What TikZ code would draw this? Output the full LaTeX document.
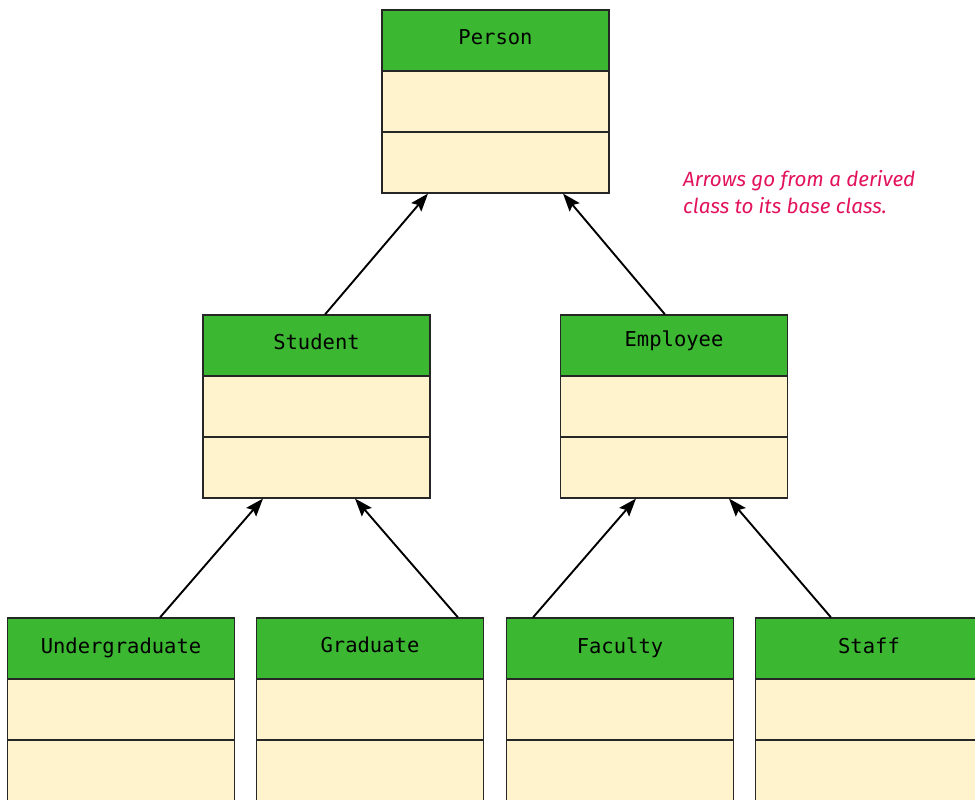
\documentclass[tikz,border=0pt]{standalone}
\usepackage{fontspec}
\newfontfamily\monofont{DejaVu Sans Mono}
\newfontfamily\notefont{Fira Sans}
\usetikzlibrary{arrows.meta}
\definecolor{hdrgreen}{RGB}{60,183,50}
\definecolor{cream}{RGB}{254,243,205}
\definecolor{notepink}{RGB}{226,18,92}
\tikzset{
  classbox/.style={draw=black!85, line width=1.1pt, fill=cream, minimum width=227pt, minimum height=183pt, inner sep=0pt,
    path picture={
      \fill[hdrgreen] (path picture bounding box.north west) rectangle ([yshift=-61pt]path picture bounding box.north east);
      \draw[black!85, line width=1.1pt] ([yshift=-61pt]path picture bounding box.north west) -- ([yshift=-61pt]path picture bounding box.north east);
      \draw[black!85, line width=1.1pt] ([yshift=-122pt]path picture bounding box.north west) -- ([yshift=-122pt]path picture bounding box.north east);
    }},
  classname/.style={anchor=base, font=\monofont\fontsize{20.5}{24}\selectfont, inner sep=0pt},
  inherit/.style={line width=1.9pt, -{Stealth[length=18pt,width=13pt,inset=3pt]}},
  note/.style={anchor=base west, font=\notefont\itshape\fontsize{20.6}{27}\selectfont, text=notepink, inner sep=0pt}
}
\begin{document}
\begin{tikzpicture}[x=1pt,y=-1pt]
\useasboundingbox (0,0) rectangle (975,800);
\node[classbox] (person) at (495.5,101.5) {};
\node[classbox] (student) at (316.5,406.5) {};
\node[classbox] (employee) at (674,406.5) {};
\node[classbox] (undergrad) at (121,709.5) {};
\node[classbox] (graduate) at (370,709.5) {};
\node[classbox] (faculty) at (620,709.5) {};
\node[classbox] (staff) at (869,709.5) {};
\node[classname] (tperson) at (495.5,44.5) {Person};
\node[classname] (tstudent) at (316.5,349.5) {Student};
\node[classname] (temployee) at (674,346) {Employee};
\node[classname] (tundergrad) at (121,653.3) {Undergraduate};
\node[classname] (tgraduate) at (370,652) {Graduate};
\node[classname] (tfaculty) at (620,653.3) {Faculty};
\node[classname] (tstaff) at (869,653.3) {Staff};
\node[note] (note1) at (683,186) {Arrows go from a derived};
\node[note] (note2) at (683,213) {class to its base class.};
\draw[inherit] ([xshift=8.5pt]student.north) -- ([xshift=-67.5pt]person.south);
\draw[inherit] ([xshift=-9pt]employee.north) -- ([xshift=67.5pt]person.south);
\draw[inherit] ([xshift=39pt]undergrad.north) -- ([xshift=-53.5pt]student.south);
\draw[inherit] ([xshift=88pt]graduate.north) -- ([xshift=38.5pt]student.south);
\draw[inherit] ([xshift=-87pt]faculty.north) -- ([xshift=-38pt]employee.south);
\draw[inherit] ([xshift=-38pt]staff.north) -- ([xshift=55pt]employee.south);
\end{tikzpicture}
\end{document}
